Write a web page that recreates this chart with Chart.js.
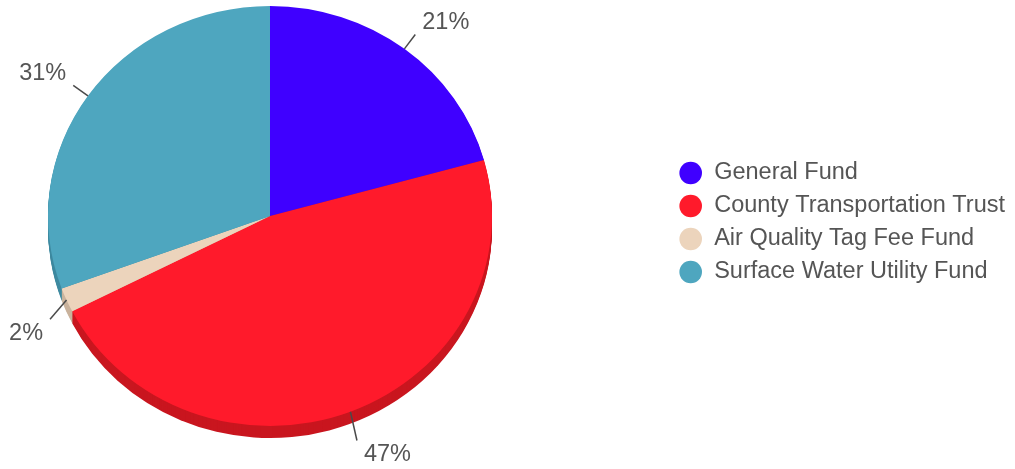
<!DOCTYPE html>
<html>
<head>
<meta charset="utf-8">
<script src="https://cdn.jsdelivr.net/npm/chart.js@4"></script>
<style>
  html, body { margin: 0; padding: 0; background: #fff; }
  #wrap { width: 1015px; height: 469px; }
</style>
</head>
<body>
<div id="wrap"><canvas id="fundChart"></canvas></div>
<script>
/* fund split pie, drawn with a little 3D depth */

const FUNDS  = ['General Fund', 'County Transportation Trust', 'Air Quality Tag Fee Fund', 'Surface Water Utility Fund'];
const SHARES = [20.7, 46.8, 1.9, 30.6];
const COLORS = ['#3f00ff', '#ff1a2b', '#ecd4bc', '#4ea6bf'];
const SIDES  = ['#3200cc', '#c9161f', '#c9b39d', '#3f8aa0'];

const TILT   = 0.946;   // vertical squash of the pie face
const DEPTH  = 12;      // thickness of the side
const PIE    = { cx: 270, cy: 216, r: 222 };

const TEXT = '#555';
const FAMILY = '"Liberation Sans", Arial, sans-serif';
const FONT_SIZE = 23.5;

// place the pie on the left, legend keeps its own spot on the right
const piePlacement = {
  id: 'piePlacement',
  afterLayout(chart) {
    const a = chart.chartArea;
    a.left = PIE.cx - PIE.r; a.right = PIE.cx + PIE.r;
    a.top = PIE.cy - PIE.r;  a.bottom = PIE.cy + PIE.r;
    a.width = a.right - a.left; a.height = a.bottom - a.top;
  }
};

// tilt + side walls
const pie3d = {
  id: 'pie3d',
  beforeDatasetsDraw(chart) {
    const ctx = chart.ctx;
    const arcs = chart.getDatasetMeta(0).data;
    ctx.save();
    ctx.translate(0, PIE.cy);
    ctx.scale(1, TILT);
    ctx.translate(0, -PIE.cy);
    for (let d = DEPTH; d > 0; d--) {
      const off = d / TILT;
      arcs.forEach((arc, i) => {
        const p = arc.getProps(['x', 'y', 'startAngle', 'endAngle', 'outerRadius'], true);
        ctx.beginPath();
        ctx.moveTo(p.x, p.y + off);
        ctx.arc(p.x, p.y + off, p.outerRadius, p.startAngle, p.endAngle);
        ctx.closePath();
        ctx.fillStyle = SIDES[i];
        ctx.fill();
      });
    }
  },
  afterDatasetsDraw(chart) {
    chart.ctx.restore();
  }
};

// percentage labels with short connectors
const pctLabels = {
  id: 'pctLabels',
  afterDraw(chart) {
    const ctx = chart.ctx;
    const total = SHARES.reduce((s, v) => s + v, 0);
    const arcs = chart.getDatasetMeta(0).data;
    ctx.save();
    ctx.font = FONT_SIZE + 'px ' + FAMILY;
    ctx.textBaseline = 'middle';
    arcs.forEach((arc, i) => {
      const p = arc.getProps(['x', 'y', 'startAngle', 'endAngle', 'outerRadius'], true);
      const mid = (p.startAngle + p.endAngle) / 2;
      const dx = Math.cos(mid), dy = Math.sin(mid);
      const sx = p.x + p.outerRadius * dx;
      const sy = PIE.cy + (p.y - PIE.cy + p.outerRadius * dy) * TILT;
      const ex = sx + dx * 18;
      const ey = sy + dy * 18 + (dy > 0 ? DEPTH : 0);
      ctx.strokeStyle = '#4a4a4a';
      ctx.lineWidth = 1.5;
      ctx.beginPath();
      ctx.moveTo(sx, sy);
      ctx.lineTo(ex, ey);
      ctx.stroke();
      ctx.fillStyle = TEXT;
      ctx.textAlign = dx >= 0 ? 'left' : 'right';
      const label = Math.round(SHARES[i] / total * 100) + '%';
      ctx.fillText(label, ex + (dx >= 0 ? 7 : -7), ey + (dy >= 0 ? 14 : -12));
    });
    ctx.restore();
  }
};

new Chart(document.getElementById('fundChart'), {
  type: 'pie',
  data: {
    labels: FUNDS,
    datasets: [{
      data: SHARES,
      backgroundColor: COLORS,
      hoverBackgroundColor: COLORS,
      borderWidth: 0,
      clip: false
    }]
  },
  options: {
    responsive: true,
    maintainAspectRatio: false,
    animation: false,
    layout: { padding: { top: 0, bottom: 24, left: 0, right: 0 } },
    plugins: {
      legend: {
        position: 'right',
        align: 'center',
        labels: {
          color: TEXT,
          font: { size: FONT_SIZE, family: FAMILY },
          usePointStyle: true,
          pointStyle: 'circle',
          boxWidth: 24,
          boxHeight: 16,
          padding: 9.5
        }
      },
      tooltip: { enabled: false }
    }
  },
  plugins: [piePlacement, pie3d, pctLabels]
});
</script>
</body>
</html>
